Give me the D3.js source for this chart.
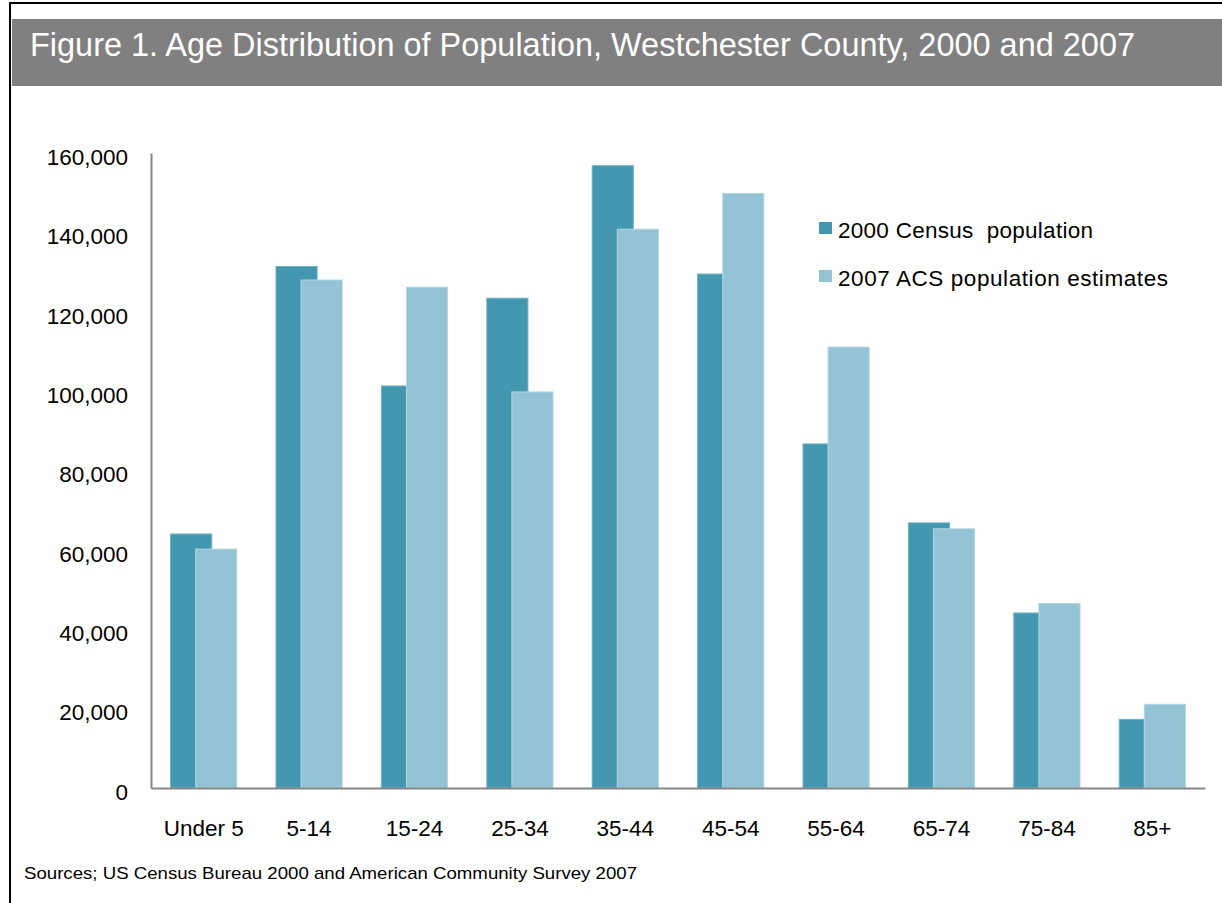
<!DOCTYPE html>
<html>
<head>
<meta charset="utf-8">
<script src="https://cdn.jsdelivr.net/npm/d3@7"></script>
<style>
  body { margin: 0; background: #fff; }
  svg { display: block; font-family: Arial, "Liberation Sans", sans-serif; }
</style>
</head>
<body>
<div id="chart"></div>
<script>
var categories = ['Under 5', '5-14', '15-24', '25-34', '35-44', '45-54', '55-64', '65-74', '75-84', '85+'];
var census2000 = [64000, 131400, 101300, 123400, 156800, 129500, 86700, 66800, 44100, 17300];
var acs2007 = [60200, 128000, 126200, 99800, 140800, 149800, 111100, 65300, 46500, 21100];
var seriesNames = ['2000 Census  population', '2007 ACS population estimates'];
var yTicks = [0, 20000, 40000, 60000, 80000, 100000, 120000, 140000, 160000];

var width = 1222;
var height = 903;
var colors = ['#4398b0', '#93c3d4'];
var legendWidths = [255, 330];

var svg = d3.select('#chart').append('svg')
  .attr('width', width)
  .attr('height', height);

// outer frame (runs off the right and bottom edge)
svg.append('path')
  .attr('d', 'M 10,' + (height + 5) + ' L 10,3 L ' + (width + 5) + ',3')
  .attr('fill', 'none')
  .attr('stroke', '#000')
  .attr('stroke-width', 2);

// title band
svg.append('rect')
  .attr('x', 12)
  .attr('y', 19)
  .attr('width', width - 12)
  .attr('height', 67)
  .attr('fill', '#808080');

svg.append('text')
  .attr('x', 30)
  .attr('y', 56)
  .attr('fill', '#fff')
  .attr('font-size', 33)
  .attr('textLength', 1105)
  .attr('lengthAdjust', 'spacingAndGlyphs')
  .text('Figure 1. Age Distribution of Population, Westchester County, 2000 and 2007');

var x = d3.scaleBand()
  .domain(categories)
  .range([151, 1205]);

var y = d3.scaleLinear()
  .domain([0, 160000])
  .range([788, 153]);

var step = x.bandwidth();
var barW = step * 0.39;
var shift = barW * 0.61;
var lead = (step - barW - shift) / 2;

var groups = svg.append('g');

[census2000, acs2007].forEach(function(values, s) {
  groups.append('g').selectAll('rect')
    .data(values)
    .join('rect')
    .attr('x', function(d, i) { return x(categories[i]) + lead + s * shift; })
    .attr('y', function(d) { return y(d); })
    .attr('width', barW)
    .attr('height', function(d) { return y(0) - y(d); })
    .attr('fill', colors[s])
    .attr('stroke', s == 0 ? '#6fb0c4' : '#b3d6e2')
    .attr('stroke-width', 1);
});

// axes
var yAxis = svg.append('g')
  .attr('transform', 'translate(151,0)')
  .call(d3.axisLeft(y).tickValues(yTicks).tickSize(0).tickPadding(23)
    .tickFormat(d3.format(',')));
yAxis.select('.domain').attr('stroke', '#868686').attr('stroke-width', 2);
yAxis.selectAll('text')
  .attr('font-size', 22.5)
  .attr('font-family', 'Arial, "Liberation Sans", sans-serif')
  .attr('fill', '#000')
  .attr('dy', '0.5em');

var xAxis = svg.append('g')
  .attr('transform', 'translate(0,788)')
  .call(d3.axisBottom(x).tickSize(0).tickPadding(32));
xAxis.select('.domain').attr('stroke', '#868686').attr('stroke-width', 2);
xAxis.selectAll('text')
  .attr('font-size', 22.5)
  .attr('font-family', 'Arial, "Liberation Sans", sans-serif')
  .attr('fill', '#000');

// legend
var legend = svg.append('g');
seriesNames.forEach(function(name, i) {
  legend.append('rect')
    .attr('x', 819)
    .attr('y', 222 + i * 48)
    .attr('width', 13)
    .attr('height', 12)
    .attr('fill', colors[i]);
  legend.append('text')
    .attr('x', 838)
    .attr('y', 238 + i * 48)
    .attr('font-size', 22.5)
    .attr('fill', '#000')
    .attr('xml:space', 'preserve')
    .attr('textLength', legendWidths[i])
    .attr('lengthAdjust', 'spacing')
    .text(name);
});

svg.append('text')
  .attr('x', 24)
  .attr('y', 879)
  .attr('font-size', 17)
  .attr('fill', '#000')
  .attr('textLength', 613)
  .attr('lengthAdjust', 'spacingAndGlyphs')
  .text('Sources; US Census Bureau 2000 and American Community Survey 2007');
</script>
</body>
</html>
